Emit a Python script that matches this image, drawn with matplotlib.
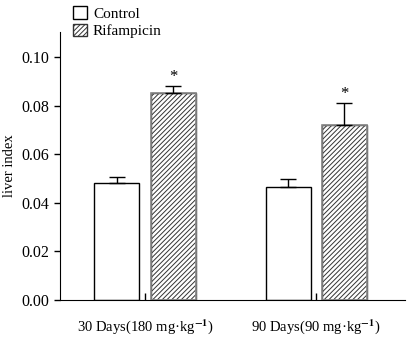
import matplotlib.pyplot as plt
import numpy as np

plt.rcParams['font.family'] = 'Liberation Serif'
plt.rcParams['mathtext.fontset'] = 'stix'
plt.rcParams['hatch.linewidth'] = 0.7

groups = ['30 Days(180 mg·kg$^{\\mathbf{-1}}$)', '90 Days(90 mg·kg$^{\\mathbf{-1}}$)']
control = [0.048, 0.0465]
control_err = [0.0025, 0.0033]
rifampicin = [0.085, 0.072]
rifampicin_err = [0.003, 0.009]
yticks = [0.00, 0.02, 0.04, 0.06, 0.08, 0.10]

x = np.arange(len(groups))
w = 0.263
off = 0.164

fig = plt.figure(figsize=(4.15, 3.4), dpi=100)
ax = fig.add_axes([0.1446, 0.1176, 0.8314, 0.7884])

ax.bar(x - off, control, w, color='white', edgecolor='black', linewidth=1.0,
       label='Control')
ax.errorbar(x - off, control, yerr=[np.zeros(2), control_err], fmt='none',
            ecolor='black', elinewidth=1.0, capsize=6, capthick=1.0)
ax.bar(x + off, rifampicin, w, color='white', edgecolor='#333333', hatch='///////',
       linewidth=1.0, label='Rifampicin')
ax.bar(x + off, rifampicin, w, color='none', edgecolor='#888888', linewidth=1.2)
ax.errorbar(x + off, rifampicin, yerr=[np.zeros(2), rifampicin_err], fmt='none',
            ecolor='black', elinewidth=1.0, capsize=6, capthick=1.0)
for xi, v, e in zip(x + off, rifampicin, rifampicin_err):
    ax.text(xi, v + e + 0.0006, '*', ha='center', va='bottom', fontsize=12)

ax.set_xlim(-0.497, 1.52)
ax.set_ylim(0, 0.1103)
ax.set_xticks(x)
ax.set_xticklabels(groups, fontsize=10.5)
ax.set_yticks(yticks)
ax.set_yticklabels(['%.2f' % t for t in yticks], fontsize=11.5)
ax.tick_params(axis='x', direction='in', length=5, width=1, pad=12)
ax.tick_params(axis='y', direction='out', length=4, width=1)
ax.spines['top'].set_visible(False)
ax.spines['right'].set_visible(False)
ax.set_ylabel('liver index', fontsize=10.5, labelpad=4)

ax.legend(loc='upper left', bbox_to_anchor=(0.02, 1.12), frameon=False,
          fontsize=11, handlelength=0.9, handleheight=0.9, handletextpad=0.4,
          labelspacing=0.2, borderaxespad=0)

fig.savefig('out.png', dpi=100)
